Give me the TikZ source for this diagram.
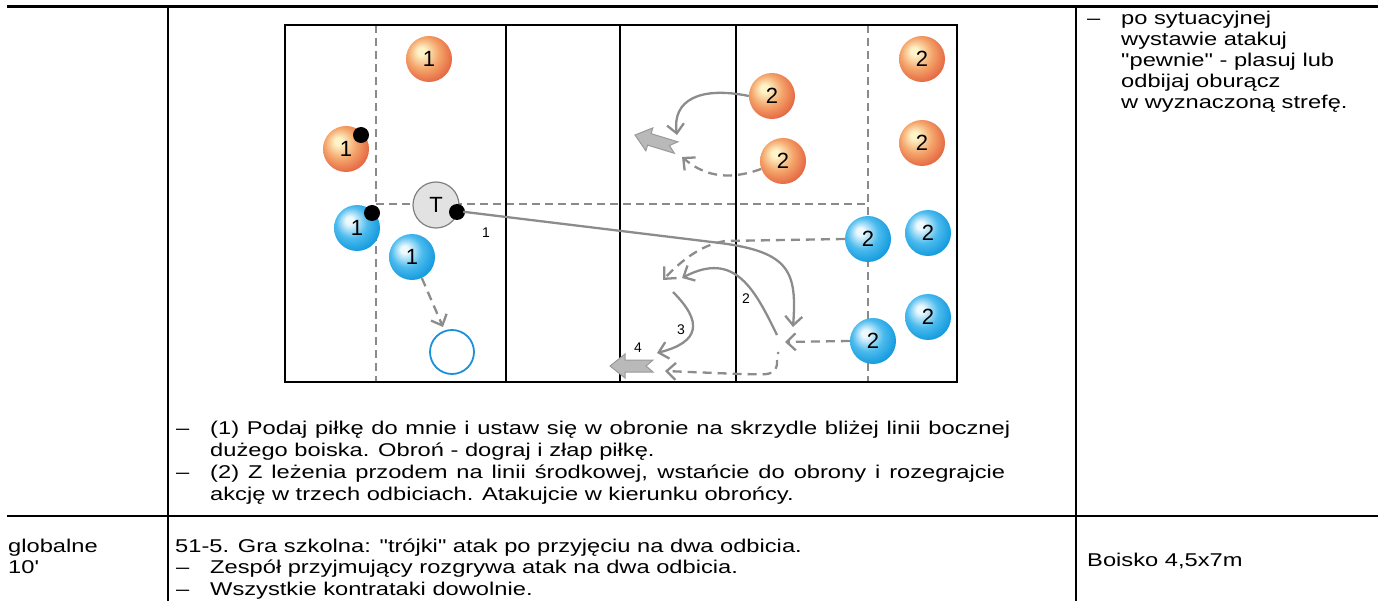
\documentclass[tikz,border=0pt]{standalone}
\usepackage{fontspec}
\setmainfont[FakeStretch=1.28,Ligatures=TeXOff]{Liberation Sans}
\newfontfamily\numfont{Liberation Sans}
\usepackage{tikz}
\usetikzlibrary{arrows.meta}

\definecolor{orangeA}{HTML}{FEF4C8}
\definecolor{orangeB}{HTML}{F4A56B}
\definecolor{orangeC}{HTML}{E25A3A}
\definecolor{blueA}{HTML}{EEF9FE}
\definecolor{blueB}{HTML}{4CBBEE}
\definecolor{blueC}{HTML}{0793DA}
\definecolor{movegray}{HTML}{8C8C8C}
\definecolor{zonegray}{HTML}{8A8A8A}
\definecolor{coachgray}{HTML}{E2E2E2}
\definecolor{targetblue}{HTML}{1C90D8}

\pgfdeclareradialshading{orangeball}{\pgfpoint{-9bp}{9bp}}{color(0bp)=(orangeA); color(4bp)=(orangeA); color(17bp)=(orangeB); color(32bp)=(orangeC); color(50bp)=(orangeC)}
\pgfdeclareradialshading{blueball}{\pgfpoint{-9bp}{9bp}}{color(0bp)=(blueA); color(4bp)=(blueA); color(17bp)=(blueB); color(32bp)=(blueC); color(50bp)=(blueC)}

\tikzset{
  blockarrow/.pic={
    \draw[fill=gray!55, draw=gray!80, line width=1pt]
      (0,0) -- (15,-12) -- (15,-6) -- (43,-6) -- (36,0) -- (43,6) -- (15,6) -- (15,12) -- cycle;
  }
}

\begin{document}
\begin{tikzpicture}[x=1pt,y=-1pt,
    court/.style={line width=2.6pt},
    zone/.style={draw=zonegray, line width=1.2pt, dash pattern=on 8pt off 5pt},
    player/.style={circle, minimum size=46pt, inner sep=0pt, font=\numfont\fontsize{22}{22}\selectfont},
    oball/.style={player, shading=orangeball},
    bball/.style={player, shading=blueball},
    coach/.style={player, fill=coachgray, draw=gray, line width=1.2pt},
    ballpt/.style={circle, fill=black, minimum size=16pt, inner sep=0pt},
    target/.style={circle, minimum size=44pt, inner sep=0pt, draw=targetblue, line width=1.8pt},
    move/.style={draw=movegray, line width=2.3pt, -{Straight Barb[length=9pt,width=17pt]}},
    run/.style={move, dash pattern=on 9pt off 6pt},
    tag/.style={inner sep=0pt, font=\numfont\fontsize{14}{14}\selectfont},
    txt/.style={anchor=west, inner sep=0pt, text height=13pt, text depth=4pt, font=\fontsize{18.5}{22}\selectfont}]

    \useasboundingbox (0,0) rectangle (1383,601);

    % table
    \draw[line width=2.4pt] (7,6.5) -- (1378,6.5) (7,516) -- (1378,516)
        (168,6.5) -- (168,601) (1076,6.5) -- (1076,601);

    % court
    \draw[zone] (376,25) -- (376,382) (868,25) -- (868,382) (376,204) -- (868,204);
    \draw[court] (285,25) rectangle (957,382);
    \draw[court] (506,25) -- (506,382) (620,25) -- (620,382) (736,25) -- (736,382);

    % team 1 and coach
    \node[oball] (o1a) at (429,59) {1};
    \node[oball] (o1b) at (346,149) {1};
    \node[bball] (b1a) at (357,228) {1};
    \node[bball] (b1b) at (412,257) {1};
    \node[coach] (t) at (436,205) {T};
    \node[target] (goal) at (452,352) {};
    \node[ballpt] (ob) at (361,135) {};
    \node[ballpt] (bb) at (372,213) {};
    \node[ballpt] (tb) at (457,212) {};

    % team 2
    \node[oball] (o2a) at (772,96) {2};
    \node[oball] (o2b) at (783,161) {2};
    \node[oball] (o2c) at (922,59) {2};
    \node[oball] (o2d) at (922,143) {2};
    \node[bball] (b2a) at (868,239) {2};
    \node[bball] (b2b) at (928,233) {2};
    \node[bball] (b2c) at (928,317) {2};
    \node[bball] (b2d) at (873,341) {2};

    % free ends
    \coordinate (e1) at (677,135);
    \coordinate (e2) at (682,157);
    \coordinate (p3) at (720,243);
    \coordinate (e3) at (793,327);
    \coordinate (p4) at (725,241);
    \coordinate (e4) at (663,280);
    \coordinate (s5) at (777,335);
    \coordinate (e5) at (682,278);
    \coordinate (s6) at (673,292);
    \coordinate (e6) at (657,353);
    \coordinate (e7) at (785,342);
    \coordinate (s8) at (777,360);
    \coordinate (p8) at (740,374);
    \coordinate (e8) at (665,371);
    \coordinate (e9) at (443,327);

    % moves
    \draw[move] (o2a.west) .. controls (700,86) and (672,100) .. (e1);
    \draw[run] (o2b.200) .. controls (725,182) and (702,174) .. (e2);
    \draw[move, shorten <=-2pt] (tb.east) -- (p3) .. controls (790,252) and (797,272) .. (e3);
    \draw[run] (b2a.west) -- (p4) .. controls (700,245) and (680,262) .. (e4);
    \draw[move] (s5) .. controls (755,290) and (735,250) .. (e5);
    \draw[move] (s6) .. controls (703,322) and (700,342) .. (e6);
    \draw[run] (b2d.west) -- (e7);
    \draw[run] (s8) .. controls (778,378) and (765,374) .. (p8) -- (e8);
    \draw[run] (b1b.-65) -- (e9);
    \node[circle, fill=movegray, inner sep=0pt, minimum size=3pt] (dot) at (778,353) {};

    \pic[rotate=-17] at (635,135) {blockarrow};
    \pic at (610,366) {blockarrow};

    \node[tag] (n1) at (486,233) {1};
    \node[tag] (n2) at (746,299) {2};
    \node[tag] (n3) at (681,330) {3};
    \node[tag] (n4) at (638,348) {4};

    % texts
    \node[txt] (d1) at (176,430) {–};
    \node[txt] (l1) at (210,430) {\makebox[800pt][s]{(1) Podaj piłkę do mnie i ustaw się w obronie na skrzydle bliżej linii bocznej}};
    \node[txt] (l2) at (210,452) {dużego boiska. Obroń - dograj i złap piłkę.};
    \node[txt] (d2) at (176,474) {–};
    \node[txt] (l3) at (210,474) {\makebox[795pt][s]{(2) Z leżenia przodem na linii środkowej, wstańcie do obrony i rozegrajcie}};
    \node[txt] (l4) at (210,496) {akcję w trzech odbiciach. Atakujcie w kierunku obrońcy.};

    \node[txt] (d3) at (1087,20) {–};
    \node[txt] (r1) at (1121,20) {po sytuacyjnej};
    \node[txt] (r2) at (1121,41) {wystawie atakuj};
    \node[txt] (r3) at (1121,62) {"pewnie" - plasuj lub};
    \node[txt] (r4) at (1121,83) {odbijaj oburącz};
    \node[txt] (r5) at (1121,104) {w wyznaczoną strefę.};

    \node[txt] (g1) at (8,548) {globalne};
    \node[txt] (g2) at (8,569) {10'};
    \node[txt] (k1) at (175,548) {51-5. Gra szkolna: "trójki" atak po przyjęciu na dwa odbicia.};
    \node[txt] (d4) at (176,569) {–};
    \node[txt] (k2) at (210,569) {Zespół przyjmujący rozgrywa atak na dwa odbicia.};
    \node[txt] (d5) at (176,591) {–};
    \node[txt] (k3) at (210,591) {Wszystkie kontrataki dowolnie.};
    \node[txt] (bo) at (1087,562) {Boisko 4,5x7m};

\end{tikzpicture}
\end{document}
